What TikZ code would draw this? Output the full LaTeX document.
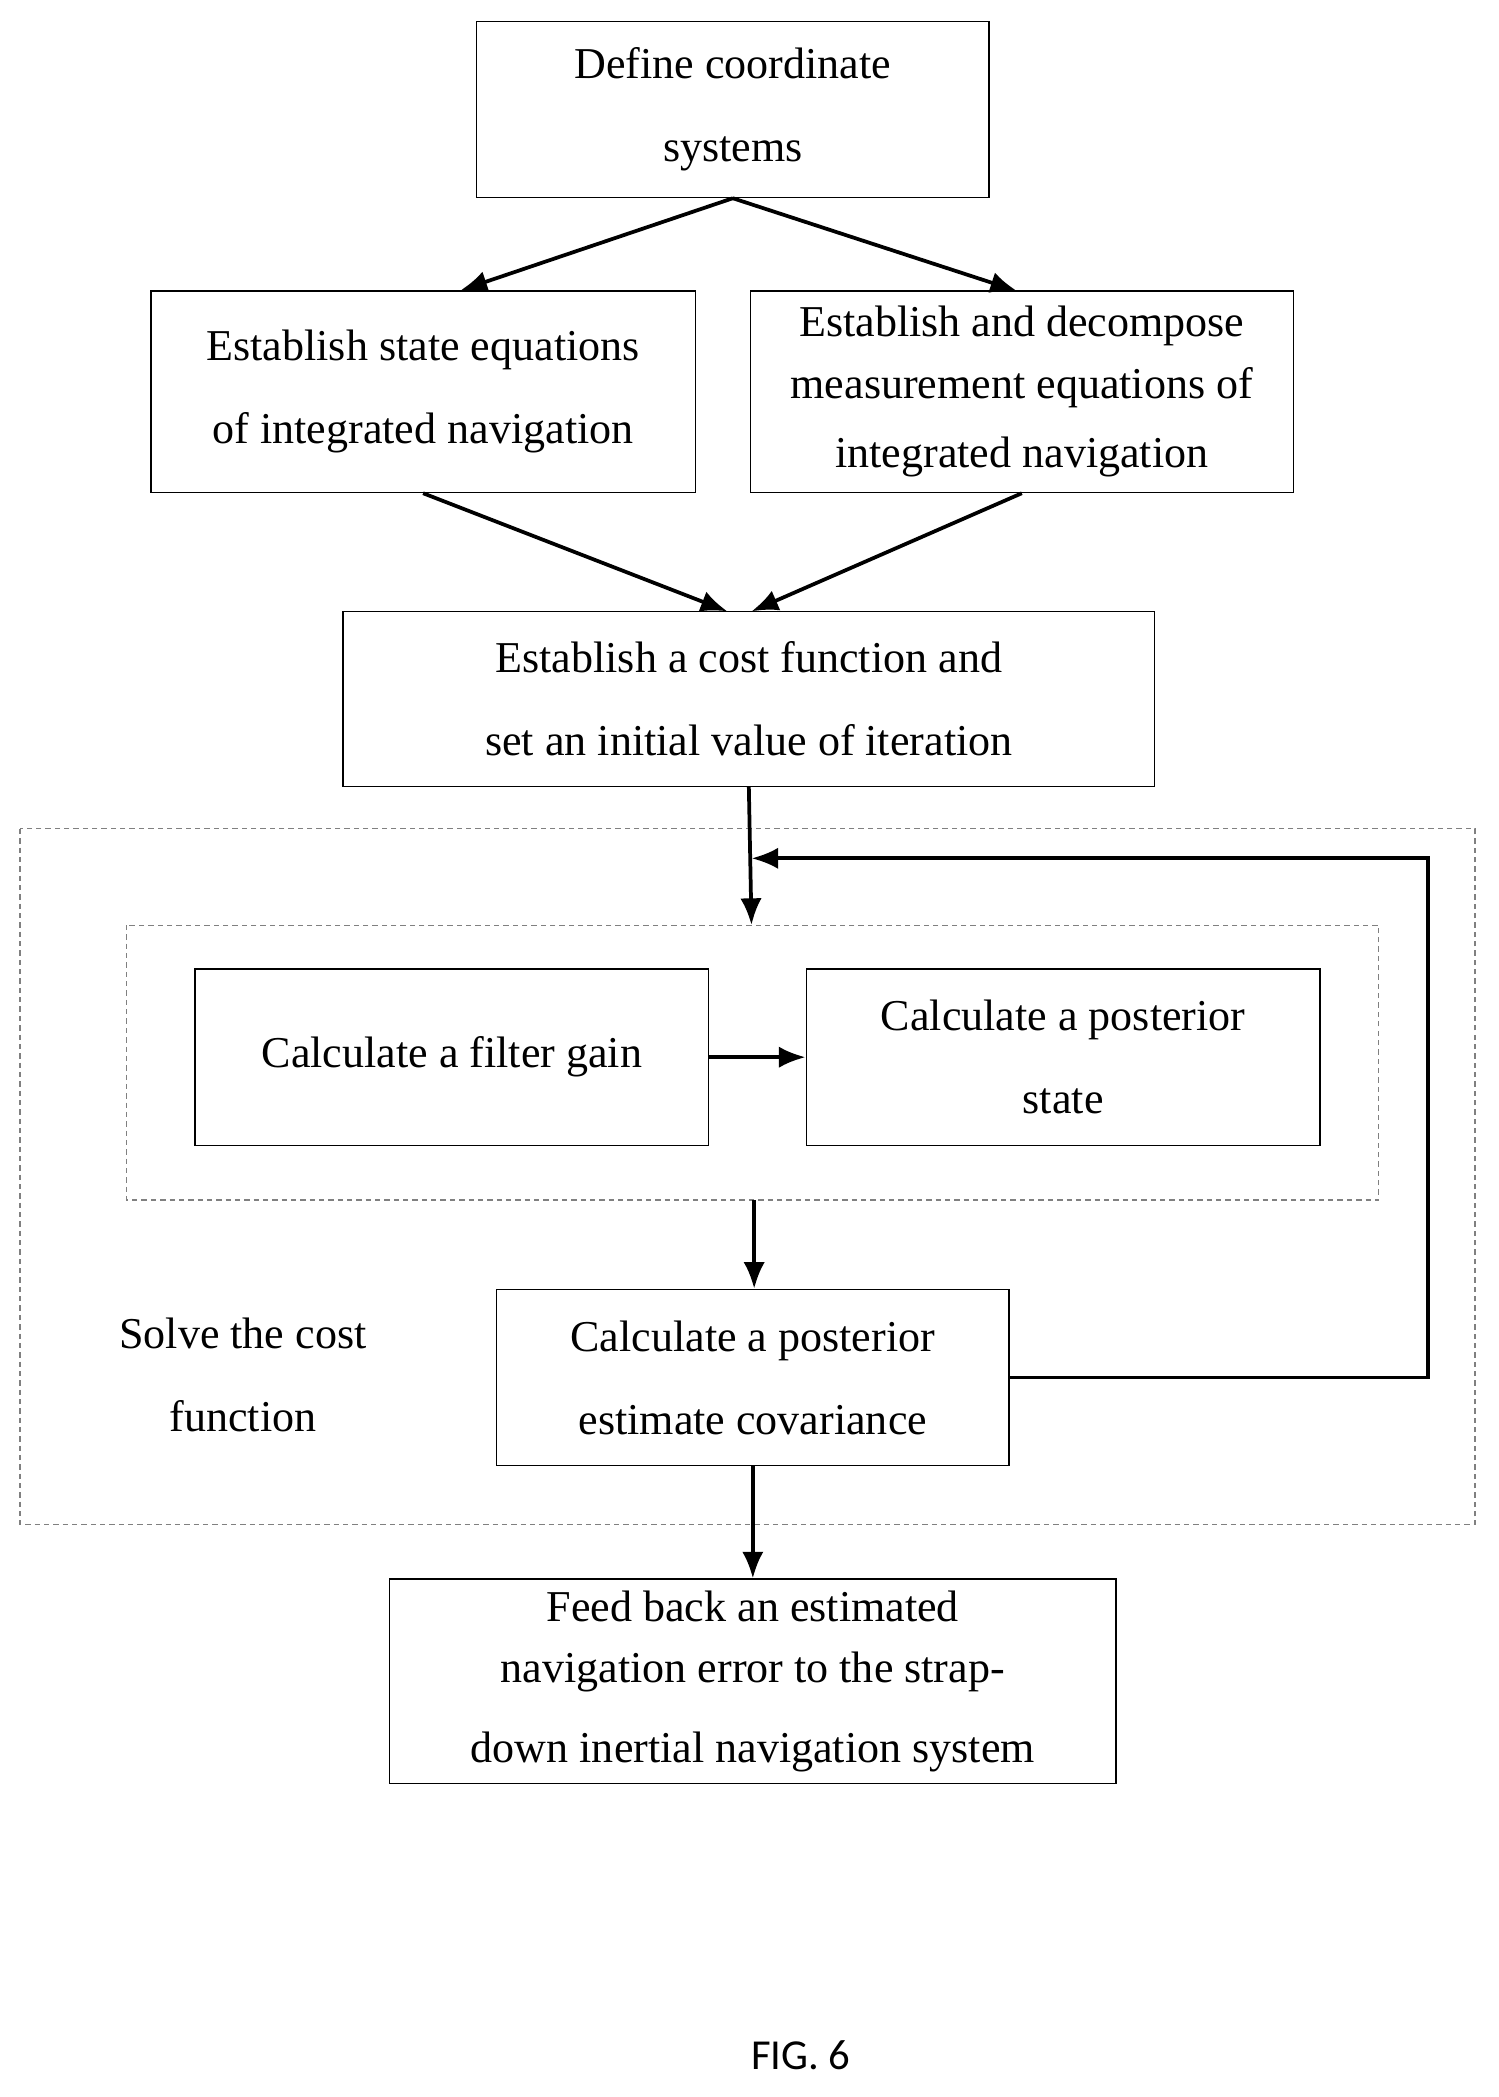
\documentclass[tikz,border=0pt]{standalone}
\usepackage{fontspec}
\setmainfont{Liberation Serif}
\newfontfamily\figfont{Carlito}
\usetikzlibrary{arrows.meta}
\begin{document}
\begin{tikzpicture}[x=0.5pt,y=-0.5pt,
  box/.style={draw,line width=0.5pt,inner sep=0pt,align=center,font=\fontsize{16.5pt}{31pt}\selectfont},
  arr/.style={line width=1.4pt,-{Latex[length=10pt,width=8pt]}},
  dbox/.style={draw,line width=0.4pt,dash pattern=on 2pt off 1.5pt,gray}]
\useasboundingbox (0,0) rectangle (1123,1571);
\node[box,minimum width=192pt,minimum height=66pt] (def) at (549,82) {Define coordinate\\systems};
\node[box,minimum width=204pt,minimum height=75.5pt] (st) at (317,293.5) {Establish state equations\\of integrated navigation};
\node[box,minimum width=203.5pt,minimum height=75.5pt,font=\fontsize{16.5pt}{23pt}\selectfont] (me) at (765.5,293.5) {Establish and decompose\\measurement equations of\\[3pt]integrated navigation};
\node[box,minimum width=304pt,minimum height=65.5pt] (cost) at (561,523.5) {Establish a cost function and\\set an initial value of iteration};
\draw[dbox] (15,621) rectangle (1105,1142);
\draw[dbox] (95,693) rectangle (1033,899);
\coordinate (inTop) at (563,693);
\coordinate (inBot) at (565,899);
\node[box,minimum width=192.5pt,minimum height=66pt] (fg) at (338.5,792) {Calculate a filter gain};
\node[box,minimum width=192.5pt,minimum height=66pt] (ps) at (796.5,792) {Calculate a posterior\\state};
\node[box,minimum width=192pt,minimum height=66pt] (cov) at (564,1032) {Calculate a posterior\\estimate covariance};
\node[align=center,font=\fontsize{16.5pt}{31pt}\selectfont] (solve) at (182,1030) {Solve the cost\\function};
\node[box,minimum width=272pt,minimum height=76.5pt,font=\fontsize{16.5pt}{23pt}\selectfont] (fb) at (564,1259.5) {Feed back an estimated\\navigation error to the strap-\\[7pt]down inertial navigation system};
\node[font=\figfont\fontsize{16pt}{18pt}\selectfont] (fig) at (600,1540) {FIG. 6};
\draw[arr] (def.south) -- (st.north east -| 345,218);
\draw[arr] (def.south) -- (762,218);
\draw[arr] (st.south) -- (545,458);
\draw[arr] (me.south) -- (563,458);
\draw[arr] (cost.south) -- (inTop);
\draw[arr] (fg.east) -- (ps.west);
\draw[arr] (inBot) -- (cov.north -| inBot);
\draw[arr] (cov.south) -- (fb.north);
\draw[arr] (cov.east) -- (1070,1032) -- (1070,643) -- (563,643);
\end{tikzpicture}
\end{document}
